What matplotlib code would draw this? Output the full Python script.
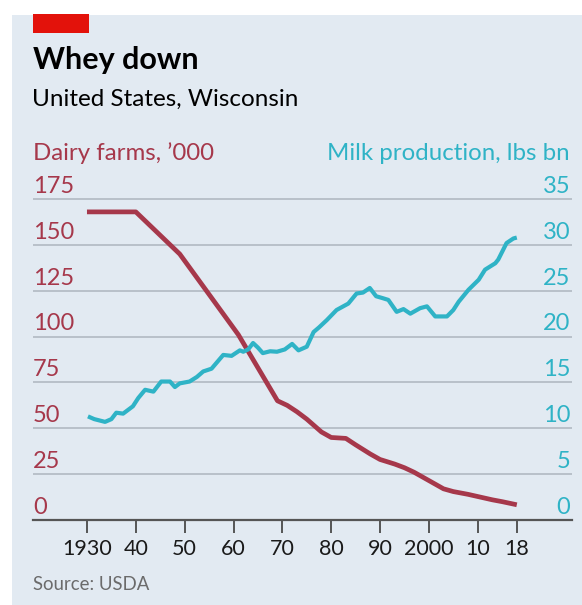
import matplotlib
matplotlib.use("Agg")
import matplotlib.pyplot as plt
from matplotlib.patches import Rectangle

# ---- data ----
farm_years = [1930, 1940, 1949, 1955, 1961, 1965, 1969, 1971, 1973, 1975, 1978, 1980,
              1983, 1985, 1988, 1990, 1993, 1995, 1997, 1999, 2001, 2003, 2005, 2008,
              2010, 2013, 2015, 2018]
farms = [168, 168, 145, 123, 101, 83, 65, 62.5, 59, 55, 48, 45,
         44.5, 41, 36, 33, 30.5, 28.5, 26, 23, 20, 17, 15.5, 14,
         12.8, 11, 10, 8.3]

milk_years = [1930.2, 1931.5, 1933.7, 1935, 1936, 1937.4, 1939.4, 1940.5, 1941.9, 1943.6,
              1945.2, 1947, 1948, 1949, 1951, 1952.5, 1953.8, 1955.5, 1957.9, 1959.6,
              1961.3, 1962, 1963, 1964, 1965, 1966, 1967.5, 1968.9, 1970.5, 1972,
              1973.3, 1975, 1976.4, 1977.5, 1979.1, 1981.1, 1983.5, 1985.2, 1986.5,
              1987.9, 1989.2, 1990.5, 1991.7, 1993.4, 1994.8, 1996.2, 1998.2, 1999.6,
              2001.3, 2003.7, 2005, 2006.1, 2008.1, 2010.2, 2011.5, 2013.6, 2014.2,
              2015.9, 2017.3, 2018]
milk = [11.3, 11.0, 10.7, 11.0, 11.7, 11.6, 12.4, 13.3, 14.2, 14.0,
        15.1, 15.1, 14.5, 14.9, 15.1, 15.6, 16.2, 16.5, 18.0, 17.9,
        18.5, 18.35, 18.6, 19.3, 18.8, 18.2, 18.4, 18.35, 18.6, 19.2,
        18.5, 18.9, 20.5, 21.0, 21.8, 22.9, 23.6, 24.7, 24.8,
        25.3, 24.4, 24.2, 24.0, 22.7, 23.0, 22.5, 23.1, 23.3,
        22.2, 22.2, 22.9, 23.8, 25.1, 26.2, 27.3, 28.0, 28.4,
        30.2, 30.7, 30.8]

left_ticks = [0, 25, 50, 75, 100, 125, 150, 175]
right_ticks = [0, 5, 10, 15, 20, 25, 30, 35]
x_ticks = [1930, 1940, 1950, 1960, 1970, 1980, 1990, 2000, 2010, 2018]
x_labels = ["1930", "40", "50", "60", "70", "80", "90", "2000", "10", "18"]

# ---- style ----
FONT = ["Lato", "DejaVu Sans"]
plt.rcParams["font.family"] = FONT
RED = "#a6384b"
BLUE = "#2fb3c6"
BG = "#e2eaf2"
GRID = "#b5bdc6"

W, H = 582, 605
fig = plt.figure(figsize=(W / 100, H / 100), dpi=100)
fig.patch.set_facecolor("white")

def fx(px):
    return px / W

def fy(py):
    return 1 - py / H

# panel background
fig.add_artist(Rectangle((fx(12), 0), 1 - fx(12), fy(15), transform=fig.transFigure,
                         facecolor=BG, edgecolor="none", zorder=-10))
# red tag
fig.add_artist(Rectangle((fx(33), fy(33)), fx(89) - fx(33), fy(14) - fy(33),
                         transform=fig.transFigure, facecolor="#e3120b",
                         edgecolor="none", zorder=-5))

fig.text(fx(33), fy(60), "Whey down", fontsize=22, fontweight="bold", color="black",
         va="center", ha="left")
fig.text(fx(32), fy(99), "United States, Wisconsin", fontsize=17.5, color="black",
         va="center", ha="left")
fig.text(fx(33), fy(153), "Dairy farms, \u2019000", fontsize=17.3, color=RED,
         va="center", ha="left")
fig.text(fx(570), fy(153), "Milk production, lbs bn", fontsize=17.3, color=BLUE,
         va="center", ha="right")
fig.text(fx(33), fy(585), "Source: USDA", fontsize=13.4, color="#6b6b6b",
         va="center", ha="left")

# axes
ymax = 175 + 5 / 1.834
top_px = 520 - ymax * 1.834
ax = fig.add_axes([fx(33), fy(520), fx(572) - fx(33), fy(top_px) - fy(520)])
ax.set_facecolor("none")
ax.set_xlim(1918.95, 2029.3)
ax.set_ylim(0, ymax)
for s in ["top", "right", "left"]:
    ax.spines[s].set_visible(False)
ax.spines["bottom"].set_color("#555555")
ax.spines["bottom"].set_linewidth(1.6)
ax.set_yticks(left_ticks)
ax.yaxis.grid(True, color=GRID, linewidth=1.3)
ax.tick_params(axis="y", length=0, labelleft=False)
ax.set_axisbelow(True)
ax.set_xticks(x_ticks)
ax.set_xticklabels(x_labels, fontsize=15.5, color="#1a1a1a")
ax.tick_params(axis="x", length=9, width=1.4, color="#555555", pad=5)

for v in left_ticks:
    ax.text(0, v + 1.2, str(v), transform=ax.get_yaxis_transform(), ha="left", va="bottom",
            fontsize=17, color=RED)

ax2 = ax.twinx()
ax2.set_ylim(0, ymax / 5)
for s in ["top", "right", "left", "bottom"]:
    ax2.spines[s].set_visible(False)
ax2.set_yticks([])
for v in right_ticks:
    ax2.text(0.9965, v + 0.24, str(v), transform=ax2.get_yaxis_transform(), ha="right",
             va="bottom", fontsize=17, color=BLUE)

ax.plot(farm_years, farms, color=RED, linewidth=3.4, solid_capstyle="butt", zorder=3)
ax2.plot(milk_years, milk, color=BLUE, linewidth=3.0, solid_capstyle="butt", zorder=3)

fig.savefig("out.png", dpi=100)
